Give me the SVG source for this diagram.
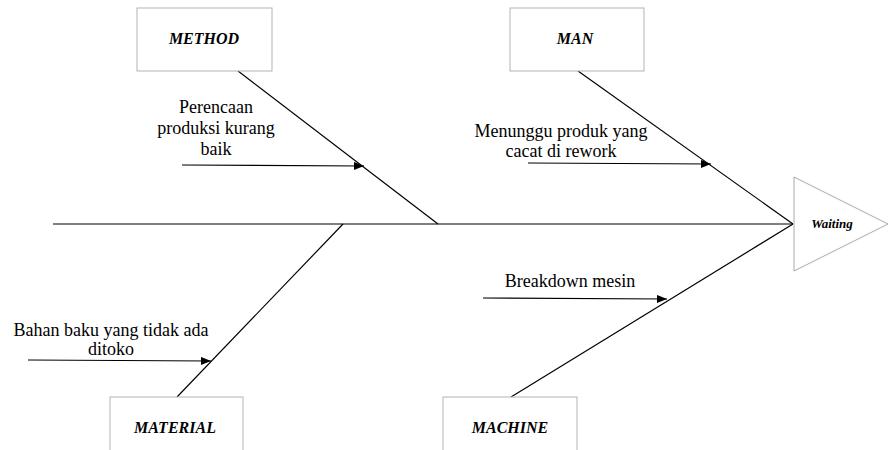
<svg xmlns="http://www.w3.org/2000/svg" width="889" height="450" viewBox="0 0 889 450">
<defs>
<marker id="ah" markerWidth="10" markerHeight="8" refX="10" refY="4" orient="auto" markerUnits="userSpaceOnUse">
<path d="M0,0 L10,4 L0,8 Z" fill="#000"/>
</marker>
<style>
.box{fill:#fff;stroke:#b3b3b3;stroke-width:1}
.bone{stroke:#000;stroke-width:1.2;fill:none}
.cause{stroke:#000;stroke-width:1.2;fill:none;marker-end:url(#ah)}
text{font-family:'Liberation Serif','Times New Roman','DejaVu Serif',serif;fill:#000;text-anchor:middle}
.cat{font-weight:bold;font-style:italic;font-size:16px}
.lbl{font-size:18px}
</style>
</defs>
<rect width="889" height="450" fill="#fff"/>
<g id="connectors">
<line class="bone" x1="53" y1="224" x2="793" y2="224"/>
<line class="bone" x1="238" y1="71" x2="438" y2="224"/>
<line class="bone" x1="578" y1="71" x2="793" y2="224"/>
<line class="bone" x1="177" y1="397" x2="343" y2="224"/>
<line class="bone" x1="511" y1="397" x2="793" y2="224"/>
<line class="cause" x1="182" y1="165" x2="364" y2="166"/>
<line class="cause" x1="528" y1="163" x2="711" y2="164"/>
<line class="cause" x1="28" y1="360" x2="211" y2="361"/>
<line class="cause" x1="483" y1="298" x2="667" y2="299"/>
</g>
<g id="head">
<polygon points="794,177 888,224 794,271" fill="#fff" stroke="#a8a8a8" stroke-width="1"/>
<text x="832" y="228" class="cat" style="font-size:13px">Waiting</text>
</g>
<g id="method">
<rect class="box" x="137" y="8" width="135" height="63"/>
<text x="204" y="44" class="cat">METHOD</text>
</g>
<g id="man">
<rect class="box" x="510" y="8" width="134" height="63"/>
<text x="575" y="44" class="cat">MAN</text>
</g>
<g id="material">
<rect class="box" x="110" y="397" width="133" height="60"/>
<text x="175" y="433" class="cat">MATERIAL</text>
</g>
<g id="machine">
<rect class="box" x="443" y="397" width="134" height="60"/>
<text x="510" y="433" class="cat">MACHINE</text>
</g>
<g id="cause-method">
<text class="lbl" x="216" y="113">Perencaan</text>
<text class="lbl" x="216" y="134">produksi kurang</text>
<text class="lbl" x="216" y="155">baik</text>
</g>
<g id="cause-man">
<text class="lbl" x="561" y="137">Menunggu produk yang</text>
<text class="lbl" x="561" y="157">cacat di rework</text>
</g>
<g id="cause-material">
<text class="lbl" x="111" y="336">Bahan baku yang tidak ada</text>
<text class="lbl" x="111" y="355">ditoko</text>
</g>
<g id="cause-machine">
<text class="lbl" x="570" y="287">Breakdown mesin</text>
</g>
</svg>
